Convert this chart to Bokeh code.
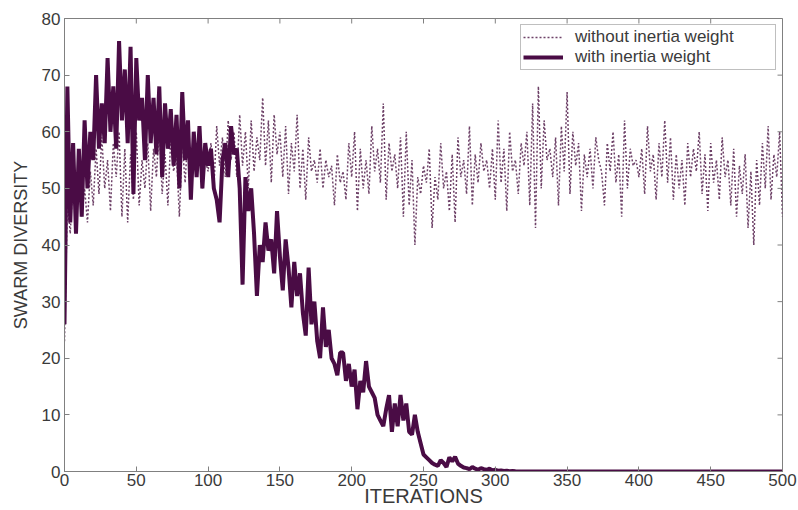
from bokeh.plotting import figure
from bokeh.models import Range1d, FixedTicker, Legend, LegendItem
from bokeh.embed import file_html
from bokeh.resources import INLINE

iterations = list(range(0, 501, 2))

without_inertia = [
    23, 48, 42, 52, 46, 55, 45, 50, 44, 53,
    47, 57, 49, 59, 50, 55, 46, 58, 52, 60,
    45, 57, 44, 56, 48, 60, 47, 55, 50, 58,
    46, 57, 52, 61, 49, 56, 47, 59, 53, 56,
    45, 58, 51, 60, 49, 57, 52, 59, 50, 55,
    53, 58, 50, 61, 54, 59, 52, 62, 55, 60,
    52, 63, 54, 60, 50, 62, 53, 59, 55, 66,
    54, 62, 51, 63, 56, 60, 52, 61, 49, 58,
    53, 63, 50, 57, 48, 59, 53, 55, 51, 57,
    50, 55, 52, 54, 47, 56, 51, 53, 48, 58,
    52, 60, 46, 57, 50, 55, 49, 61, 53, 57,
    51, 65, 48, 58, 53, 56, 50, 59, 45, 60,
    47, 55, 40, 52, 49, 54, 51, 57, 43, 52,
    48, 58, 50, 53, 46, 56, 44, 59, 52, 55,
    49, 61, 47, 56, 51, 58, 53, 55, 50, 57,
    48, 62, 51, 57, 46, 60, 53, 55, 49, 58,
    54, 60, 47, 65, 43, 68, 50, 62, 55, 57,
    52, 59, 47, 61, 53, 67, 49, 60, 54, 58,
    46, 56, 52, 57, 50, 59, 55, 53, 47, 58,
    53, 60, 51, 56, 45, 62, 50, 57, 54, 55,
    52, 57, 49, 61, 53, 56, 48, 58, 52, 62,
    51, 59, 48, 56, 50, 55, 47, 58, 52, 57,
    53, 60, 49, 56, 46, 58, 51, 55, 48, 59,
    52, 55, 47, 57, 45, 54, 49, 56, 43, 53,
    40, 55, 47, 58, 50, 61, 48, 56, 52, 60,
    45,
]

with_inertia = [
    26, 68, 44, 58, 42, 57, 45, 62, 50, 60,
    55, 70, 57, 65, 58, 73, 60, 68, 57, 76,
    62, 71, 58, 75, 49, 73, 62, 66, 55, 70,
    58, 66, 56, 68, 52, 65, 57, 64, 54, 63,
    50, 67, 55, 62, 48, 60, 52, 61, 50, 58,
    54, 57, 50, 48, 44, 55, 58, 52, 61, 56,
    57, 50, 33, 52, 46, 50, 42, 31, 40, 37,
    44, 39, 41, 35, 46, 38, 32, 41, 36, 29,
    37, 31, 35, 28, 24, 36, 26, 30, 23, 20,
    29, 22, 25, 20, 19, 17, 21, 21, 16, 19,
    15, 18, 11, 16, 14, 19.5, 15, 14, 13, 10,
    9, 8, 11, 13.5, 7, 12, 8, 13.5, 9, 12,
    7, 6.5, 10, 7, 5, 3, 2.5, 2, 1.5, 1.2,
    1, 2, 1.5, 0.8, 2.5, 1.8, 2.6, 1.4, 1, 0.7,
    0.6, 0.4, 0.8, 0.5, 0.3, 0.6, 0.4, 0.3, 0.5, 0.2,
    0.3, 0.15, 0.2, 0.1, 0.12, 0.05, 0.08, 0.03, 0.02, 0.01,
    0, 0, 0, 0, 0, 0, 0, 0, 0, 0,
    0, 0, 0, 0, 0, 0, 0, 0, 0, 0,
    0, 0, 0, 0, 0, 0, 0, 0, 0, 0,
    0, 0, 0, 0, 0, 0, 0, 0, 0, 0,
    0, 0, 0, 0, 0, 0, 0, 0, 0, 0,
    0, 0, 0, 0, 0, 0, 0, 0, 0, 0,
    0, 0, 0, 0, 0, 0, 0, 0, 0, 0,
    0, 0, 0, 0, 0, 0, 0, 0, 0, 0,
    0, 0, 0, 0, 0, 0, 0, 0, 0, 0,
    0,
]

x_ticks = [0, 50, 100, 150, 200, 250, 300, 350, 400, 450, 500]
y_ticks = [0, 10, 20, 30, 40, 50, 60, 70, 80]
X_MAX, Y_MAX = 500, 80

FONT = "Liberation Sans"
AX_COL = "#808080"
TXT_COL = "#3a3a3a"

p = figure(width=798, height=510, output_backend="svg", toolbar_location=None,
           x_range=Range1d(0, X_MAX), y_range=Range1d(0, Y_MAX),
           min_border_left=64, min_border_right=16, min_border_top=18, min_border_bottom=39)
p.background_fill_color = "white"
p.border_fill_color = "white"
p.outline_line_color = AX_COL
p.grid.visible = False

r1 = p.line(iterations, without_inertia, line_color="#6e4268", line_width=1.5, line_dash="2 2")
r2 = p.line(iterations, with_inertia, line_color="#4a0c45", line_width=4)

# inner ticks on the top and right edges of the box
p.ray(x=x_ticks, y=[Y_MAX] * len(x_ticks), length=5, length_units="screen",
      angle=-90, angle_units="deg", line_color=AX_COL, line_width=1)
p.ray(x=[X_MAX] * len(y_ticks), y=y_ticks, length=5, length_units="screen",
      angle=180, angle_units="deg", line_color=AX_COL, line_width=1)

for ax in (p.xaxis[0], p.yaxis[0]):
    ax.axis_line_color = AX_COL
    ax.major_tick_line_color = AX_COL
    ax.major_tick_in = 5
    ax.major_tick_out = 0
    ax.minor_tick_line_color = None
    ax.major_label_text_font = FONT
    ax.major_label_text_font_size = "17px"
    ax.major_label_text_color = TXT_COL
    ax.axis_label_text_font = FONT
    ax.axis_label_text_font_style = "normal"
    ax.axis_label_text_color = TXT_COL

p.xaxis[0].ticker = FixedTicker(ticks=x_ticks)
p.yaxis[0].ticker = FixedTicker(ticks=y_ticks)
p.xaxis[0].axis_label = "ITERATIONS"
p.yaxis[0].axis_label = "SWARM DIVERSITY"
p.xaxis[0].axis_label_text_font_size = "20px"
p.yaxis[0].axis_label_text_font_size = "18px"
p.xaxis[0].major_label_standoff = 2
p.xaxis[0].axis_label_standoff = -4
p.yaxis[0].major_label_standoff = 4
p.yaxis[0].axis_label_standoff = 8

legend = Legend(items=[LegendItem(label="without inertia weight", renderers=[r1]),
                       LegendItem(label="with inertia weight", renderers=[r2])],
                location="top_right")
legend.label_text_font = FONT
legend.label_text_font_size = "17px"
legend.label_text_color = TXT_COL
legend.border_line_color = AX_COL
legend.border_line_width = 1
legend.background_fill_alpha = 1
legend.margin = 6
legend.padding = 2
legend.spacing = -3
legend.glyph_width = 40
legend.glyph_height = 12
legend.label_height = 12
legend.label_width = 198
legend.label_standoff = 12
p.add_layout(legend)

open("out.html", "w").write(file_html(p, INLINE))
